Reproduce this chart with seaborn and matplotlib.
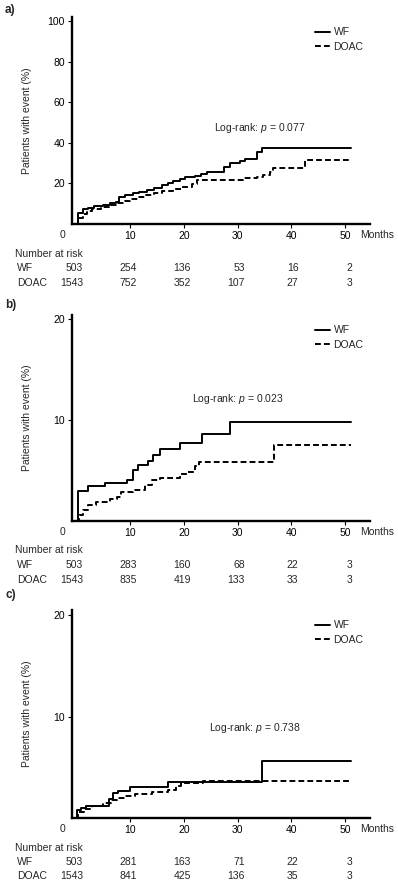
import numpy as np
import pandas as pd
import matplotlib
matplotlib.use("Agg")
import matplotlib.pyplot as plt
import matplotlib.transforms as mtransforms
import seaborn as sns

# step points (month, cumulative %)
a_wf_month = [0, 0.3, 1.2, 2.2, 3.3, 5.0, 6.3, 7.3, 8.0, 9.0, 10.5, 11.7, 13.2, 14.5, 16.0, 17.0, 18.0, 19.2, 20.3, 22.0, 23.2, 24.3, 27.5, 28.6, 30.5, 31.4, 33.6, 34.5, 51.0]
a_wf_pct = [0, 5.2, 7.3, 8.0, 8.8, 9.5, 10.3, 11.0, 13.4, 14.3, 15.4, 16.0, 16.8, 17.8, 19.0, 20.3, 21.2, 22.1, 23.3, 23.8, 24.5, 25.5, 28.0, 30.0, 31.0, 32.0, 35.6, 37.6, 37.6]
a_doac_month = [0, 0.4, 1.2, 2.0, 3.0, 4.5, 6.0, 7.5, 9.0, 10.0, 11.5, 13.0, 14.5, 16.0, 18.0, 19.5, 21.5, 22.5, 31.0, 33.5, 34.8, 36.0, 36.5, 42.5, 51.0]
a_doac_pct = [0, 3.0, 5.0, 6.5, 7.5, 8.3, 9.2, 10.2, 11.3, 12.3, 13.2, 14.2, 15.2, 16.2, 17.2, 18.3, 19.5, 21.9, 22.5, 23.0, 24.0, 25.5, 27.7, 31.4, 31.4]

b_wf_month = [0, 0.4, 2.2, 5.3, 9.4, 10.5, 11.4, 13.4, 14.3, 15.6, 19.3, 23.4, 28.6, 51.0]
b_wf_pct = [0, 3.0, 3.5, 3.75, 4.05, 5.05, 5.5, 5.95, 6.5, 7.1, 7.7, 8.6, 9.8, 9.8]
b_doac_month = [0, 0.5, 1.3, 2.2, 3.7, 6.3, 7.5, 8.4, 10.6, 12.8, 14.0, 15.6, 19.3, 20.5, 22.1, 22.8, 36.7, 51.0]
b_doac_pct = [0, 0.6, 1.1, 1.6, 1.9, 2.15, 2.4, 2.9, 3.1, 3.55, 4.05, 4.3, 4.7, 4.9, 5.4, 5.85, 7.5, 7.5]

c_wf_month = [0, 0.2, 0.9, 1.8, 6.0, 6.9, 7.8, 10.0, 17.1, 34.5, 51.0]
c_wf_pct = [0, 0.8, 1.0, 1.2, 1.85, 2.45, 2.7, 3.1, 3.55, 5.6, 5.6]
c_doac_month = [0, 0.3, 1.5, 3.0, 5.0, 6.5, 7.5, 9.0, 11.0, 14.0, 17.0, 18.5, 19.5, 23.5, 51.0]
c_doac_pct = [0, 0.6, 0.9, 1.2, 1.5, 1.8, 2.0, 2.2, 2.4, 2.6, 2.8, 3.2, 3.45, 3.6, 3.6]

risk_months = [0, 10, 20, 30, 40, 50]
a_risk_wf = [503, 254, 136, 53, 16, 2]
a_risk_doac = [1543, 752, 352, 107, 27, 3]
b_risk_wf = [503, 283, 160, 68, 22, 3]
b_risk_doac = [1543, 835, 419, 133, 33, 3]
c_risk_wf = [503, 281, 163, 71, 22, 3]
c_risk_doac = [1543, 841, 425, 136, 35, 3]

panel_labels = ["a)", "b)", "c)"]
p_texts = ["0.077", "0.023", "0.738"]

sns.set_style("white")
plt.rcParams["font.family"] = ["Liberation Sans", "DejaVu Sans"]
plt.rcParams["mathtext.fontset"] = "custom"
plt.rcParams["mathtext.it"] = "Liberation Sans:italic"
plt.rcParams["mathtext.rm"] = "Liberation Sans"

FS = 7.5
W, H = 398, 888
fig = plt.figure(figsize=(W / 100, H / 100), dpi=100)


def frac_y(px):
    return 1 - px / H


# pixel layout of each panel: axis bottom, axis top, ylim top, risk rows, label y, p-text pos
panels = [
    dict(wf=(a_wf_month, a_wf_pct), doac=(a_doac_month, a_doac_pct),
         rwf=a_risk_wf, rdoac=a_risk_doac, bottom=224, top=17, ymax=102,
         yticks=[20, 40, 60, 80, 100], rows=(254, 268, 283), letter=10,
         ptxt=(34.2, 47.5)),
    dict(wf=(b_wf_month, b_wf_pct), doac=(b_doac_month, b_doac_pct),
         rwf=b_risk_wf, rdoac=b_risk_doac, bottom=521, top=315, ymax=20.4,
         yticks=[10, 20], rows=(550, 565, 580), letter=305,
         ptxt=(30.1, 12.1)),
    dict(wf=(c_wf_month, c_wf_pct), doac=(c_doac_month, c_doac_pct),
         rwf=c_risk_wf, rdoac=c_risk_doac, bottom=818, top=610, ymax=20.5,
         yticks=[10, 20], rows=(848, 862, 876), letter=595,
         ptxt=(33.3, 8.9)),
]

for i, p in enumerate(panels):
    ax = fig.add_axes([72 / W, frac_y(p["bottom"]), 298 / W, (p["bottom"] - p["top"]) / H])
    df = pd.concat([
        pd.DataFrame({"Months": p["wf"][0], "Pct": p["wf"][1], "Group": "WF"}),
        pd.DataFrame({"Months": p["doac"][0], "Pct": p["doac"][1], "Group": "DOAC"}),
    ])
    sns.lineplot(data=df, x="Months", y="Pct", style="Group", style_order=["WF", "DOAC"],
                 dashes={"WF": "", "DOAC": (3, 1.6)}, color="black", linewidth=1.4,
                 drawstyle="steps-post", estimator=None, ax=ax)
    ax.set_xlim(-0.8, 54.6)
    ax.set_ylim(0, p["ymax"])
    ax.set_xticks([10, 20, 30, 40, 50])
    ax.set_yticks(p["yticks"])
    sns.despine(ax=ax)
    for s in ["left", "bottom"]:
        ax.spines[s].set_linewidth(1.7)
        ax.spines[s].set_color("black")
    ax.tick_params(axis="both", direction="out", length=3, width=0.8, labelsize=FS,
                   colors="black", pad=2, bottom=True, left=True)
    ax.set_xlabel("")
    ax.set_ylabel("Patients with event (%)", fontsize=FS)
    ax.yaxis.set_label_coords(-40 / 298, 0.5)

    h, l = ax.get_legend_handles_labels()
    ax.legend(h, l, loc="upper left", bbox_to_anchor=(0.815, 0.95), frameon=False,
              fontsize=FS, handlelength=1.5, handletextpad=0.3, labelspacing=0.45,
              borderpad=0, borderaxespad=0)

    ax.text(p["ptxt"][0], p["ptxt"][1], f"Log-rank: $p$ = {p_texts[i]}",
            fontsize=FS, ha="center", va="center")

    tick_y = p["bottom"] + 11
    fig.text(62 / W, frac_y(tick_y), "0", fontsize=FS, ha="center", va="center")
    fig.text(360 / W, frac_y(tick_y), "Months", fontsize=FS, ha="left", va="center")
    fig.text(5 / W, frac_y(p["letter"]), panel_labels[i], fontsize=8.5,
             fontweight="bold", ha="left", va="center")

    trans = mtransforms.blended_transform_factory(ax.transData, fig.transFigure)
    fig.text(15 / W, frac_y(p["rows"][0]), "Number at risk", fontsize=FS, ha="left", va="center")
    fig.text(17 / W, frac_y(p["rows"][1]), "WF", fontsize=FS, ha="left", va="center")
    fig.text(17 / W, frac_y(p["rows"][2]), "DOAC", fontsize=FS, ha="left", va="center")
    for m, nw, nd in zip(risk_months, p["rwf"], p["rdoac"]):
        ax.text(m + 1.3, frac_y(p["rows"][1]), str(nw), transform=trans,
                fontsize=FS, ha="right", va="center")
        ax.text(m + 1.3, frac_y(p["rows"][2]), str(nd), transform=trans,
                fontsize=FS, ha="right", va="center")

fig.savefig("out.png", dpi=100)
